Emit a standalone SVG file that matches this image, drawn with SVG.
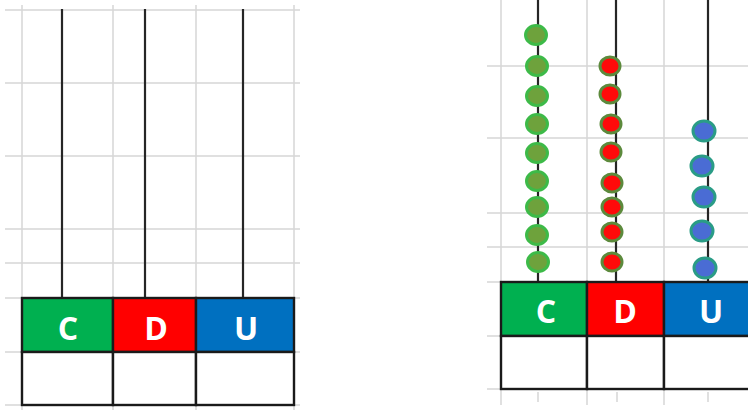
<svg xmlns="http://www.w3.org/2000/svg" width="748" height="410" viewBox="0 0 748 410">
<style>
.grid{stroke:#d6d6d6;stroke-width:1.5;fill:none}
.rod{stroke:#262626;stroke-width:2.2}
.cell{stroke:#1a1a1a;stroke-width:2.4}
.lbl{font-family:"Open Sans","Liberation Sans",sans-serif;font-weight:bold;fill:#ffffff;text-anchor:middle}
.bg{fill:#6ea23c;stroke:#3dba48;stroke-width:3}
.br{fill:#ff0a0a;stroke:#5c8a3c;stroke-width:3}
.bb{fill:#4a6cd4;stroke:#2a9c86;stroke-width:3}
</style>
<rect width="748" height="410" fill="#ffffff"/>
<g id="grid-left" class="grid">
<path d="M22 5V410M113 5V410M196 5V410M294 5V410"/>
<path d="M5 10H300M5 83H300M5 156H300M5 229H300M5 263H300M5 298H300M5 352H300M5 405H300"/>
</g>
<g id="grid-right" class="grid">
<path d="M501 0V405M587 0V405M664 0V405"/>
<path d="M487 66H748M487 138H748M487 213H748M487 247H748M487 282H748M487 336H748M487 389H748"/>
<path d="M538 392V402M617 392V402M708 392V402"/>
</g>
<g id="connectors">
<line class="rod" x1="62" y1="9" x2="62" y2="298"/>
<line class="rod" x1="145" y1="9" x2="145" y2="298"/>
<line class="rod" x1="243" y1="9" x2="243" y2="298"/>
<line class="rod" x1="538" y1="0" x2="538" y2="282"/>
<line class="rod" x1="616" y1="0" x2="616" y2="282"/>
<line class="rod" x1="708" y1="0" x2="708" y2="282"/>
</g>
<g id="left-C">
<rect class="cell" x="22" y="298" width="91" height="54" fill="#00b050"/>
<rect class="cell" x="22" y="352" width="91" height="53" fill="#ffffff"/>
<text class="lbl" x="68" y="340" font-size="32">C</text>
</g>
<g id="left-D">
<rect class="cell" x="113" y="298" width="83" height="54" fill="#ff0000"/>
<rect class="cell" x="113" y="352" width="83" height="53" fill="#ffffff"/>
<text class="lbl" x="156" y="340" font-size="32">D</text>
</g>
<g id="left-U">
<rect class="cell" x="196" y="298" width="98" height="54" fill="#0070c0"/>
<rect class="cell" x="196" y="352" width="98" height="53" fill="#ffffff"/>
<text class="lbl" x="246" y="340" font-size="32">U</text>
</g>
<g id="right-C">
<rect class="cell" x="501" y="282" width="86" height="54" fill="#00b050"/>
<rect class="cell" x="501" y="336" width="86" height="53" fill="#ffffff"/>
<text class="lbl" x="546" y="323" font-size="32">C</text>
</g>
<g id="right-D">
<rect class="cell" x="587" y="282" width="77" height="54" fill="#ff0000"/>
<rect class="cell" x="587" y="336" width="77" height="53" fill="#ffffff"/>
<text class="lbl" x="625" y="323" font-size="32">D</text>
</g>
<g id="right-U">
<rect class="cell" x="664" y="282" width="90" height="54" fill="#0070c0"/>
<rect class="cell" x="664" y="336" width="90" height="53" fill="#ffffff"/>
<text class="lbl" x="711" y="323" font-size="32">U</text>
</g>
<g id="beads-C">
<ellipse class="bg" cx="536" cy="35" rx="10.5" ry="9.5"/>
<ellipse class="bg" cx="537" cy="66" rx="10.5" ry="9.5"/>
<ellipse class="bg" cx="537" cy="96" rx="10.5" ry="9.5"/>
<ellipse class="bg" cx="537" cy="124" rx="10.5" ry="9.5"/>
<ellipse class="bg" cx="537" cy="153" rx="10.5" ry="9.5"/>
<ellipse class="bg" cx="537" cy="181" rx="10.5" ry="9.5"/>
<ellipse class="bg" cx="537" cy="207" rx="10.5" ry="9.5"/>
<ellipse class="bg" cx="537" cy="235" rx="10.5" ry="9.5"/>
<ellipse class="bg" cx="538" cy="262" rx="10.5" ry="9.5"/>
</g>
<g id="beads-D">
<ellipse class="br" cx="610" cy="66" rx="10" ry="9"/>
<ellipse class="br" cx="610" cy="94" rx="10" ry="9"/>
<ellipse class="br" cx="611" cy="124" rx="10" ry="9"/>
<ellipse class="br" cx="611" cy="152" rx="10" ry="9"/>
<ellipse class="br" cx="612" cy="183" rx="10" ry="9"/>
<ellipse class="br" cx="612" cy="207" rx="10" ry="9"/>
<ellipse class="br" cx="612" cy="232" rx="10" ry="9"/>
<ellipse class="br" cx="612" cy="262" rx="10" ry="9"/>
</g>
<g id="beads-U">
<ellipse class="bb" cx="704" cy="131" rx="11" ry="10"/>
<ellipse class="bb" cx="702" cy="166" rx="11" ry="10"/>
<ellipse class="bb" cx="704" cy="197" rx="11" ry="10"/>
<ellipse class="bb" cx="702" cy="231" rx="11" ry="10"/>
<ellipse class="bb" cx="705" cy="268" rx="11" ry="10"/>
</g>
</svg>
